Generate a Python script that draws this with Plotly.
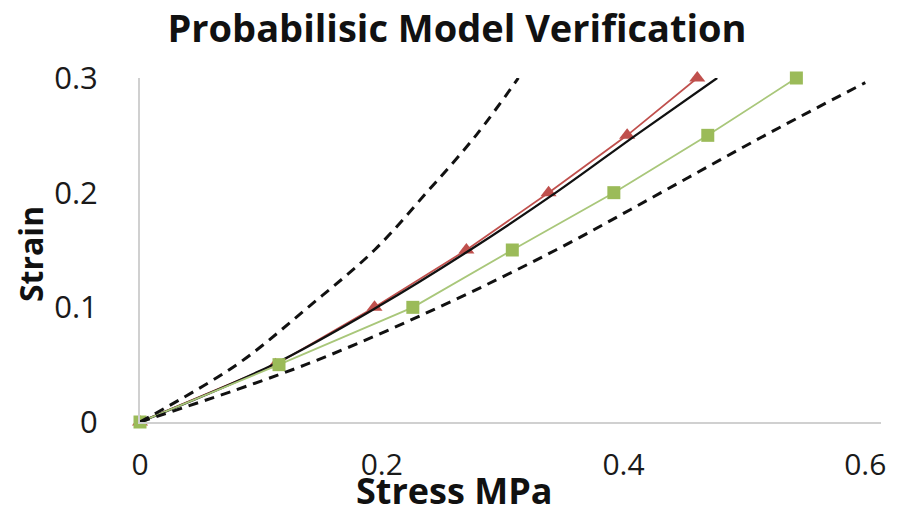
import plotly.graph_objects as go

# Strain levels shared by every curve
strain = [0, 0.05, 0.1, 0.15, 0.2, 0.25, 0.3]

# Stress (MPa) for each curve
stress_test = [0, 0.112, 0.194, 0.27, 0.338, 0.403, 0.461]      # red triangles
stress_sim = [0, 0.115, 0.2257, 0.308, 0.392, 0.4697, 0.543]    # green squares
stress_mean = [0, 0.11, 0.196, 0.273, 0.344, 0.41, 0.4775]      # solid model curve
stress_upper = [0, 0.08, 0.139, 0.194, 0.237, 0.278, 0.313]     # dashed bound (steep)
stress_lower = [0, 0.137, 0.247, 0.344, 0.431, 0.517, 0.6]      # dashed bound (shallow)
strain_lower = [0, 0.05, 0.1, 0.15, 0.2, 0.25, 0.296]

x_ticks = [0, 0.2, 0.4, 0.6]
x_tick_text = ["0", "0.2", "0.4", "0.6"]
y_ticks = [0, 0.1, 0.2, 0.3]
y_tick_text = ["0", "0.1", "0.2", "0.3"]

W, H = 904, 516
ML, MR, MT, MB = 140, 23, 78, 94
FONT = "Open Sans"

fig = go.Figure()

fig.add_trace(go.Scatter(
    x=stress_test, y=strain, mode="lines+markers", cliponaxis=False,
    line=dict(color="#C0504D", width=1.8),
    marker=dict(symbol="triangle-up", size=14, color="#C0504D"),
))
fig.add_trace(go.Scatter(
    x=stress_mean, y=strain, mode="lines", line_shape="spline", cliponaxis=False,
    line=dict(color="#111111", width=2.3),
))
fig.add_trace(go.Scatter(
    x=stress_sim, y=strain, mode="lines+markers", cliponaxis=False,
    line=dict(color="#A9C77A", width=1.8),
    marker=dict(symbol="square", size=13, color="#9BBB59"),
))
for xs, ys in ((stress_upper, strain), (stress_lower, strain_lower)):
    fig.add_trace(go.Scatter(
        x=xs, y=ys, mode="lines", line_shape="spline", cliponaxis=False,
        line=dict(color="#111111", width=3, dash="10px,7px"),
    ))

plot_w = W - ML - MR
plot_h = H - MT - MB

fig.update_layout(
    width=W, height=H,
    margin=dict(l=ML, r=MR, t=MT, b=MB),
    paper_bgcolor="white", plot_bgcolor="white",
    showlegend=False,
    font=dict(family=FONT, color="#1a1a1a"),
    title=dict(
        text="<b>Probabilisic Model Verification</b>",
        x=(457 - ML) / plot_w, xref="paper", xanchor="center",
        y=1 - 29 / H, yref="container", yanchor="middle",
        font=dict(family=FONT, size=38, color="#111111"),
    ),
    xaxis=dict(
        range=[0, 0.613], tickvals=x_ticks, ticktext=x_tick_text,
        showgrid=False, zeroline=False,
        showline=True, linecolor="#d0d0d0", linewidth=2,
        ticks="", ticklabelstandoff=15,
        tickfont=dict(family=FONT, size=30, color="#1a1a1a"),
    ),
    yaxis=dict(
        range=[0, 0.3], tickvals=y_ticks, ticktext=y_tick_text,
        showgrid=False, zeroline=False,
        showline=True, linecolor="#d0d0d0", linewidth=2,
        ticks="", ticklabelstandoff=34,
        tickfont=dict(family=FONT, size=31, color="#1a1a1a"),
    ),
    annotations=[
        dict(
            text="<b>Stress MPa</b>", showarrow=False,
            xref="paper", yref="paper",
            x=(454 - ML) / plot_w, y=-(H + 1 - (MT + plot_h)) / plot_h,
            xanchor="center", yanchor="bottom",
            font=dict(family=FONT, size=36, color="#111111"),
        ),
        dict(
            text="<b>Strain</b>", showarrow=False, textangle=-90,
            xref="paper", yref="paper",
            x=(30 - ML) / plot_w, y=(H - MB - 254) / plot_h,
            xanchor="center", yanchor="middle",
            font=dict(family=FONT, size=32, color="#111111"),
        ),
    ],
)

fig.write_html("out.html")
